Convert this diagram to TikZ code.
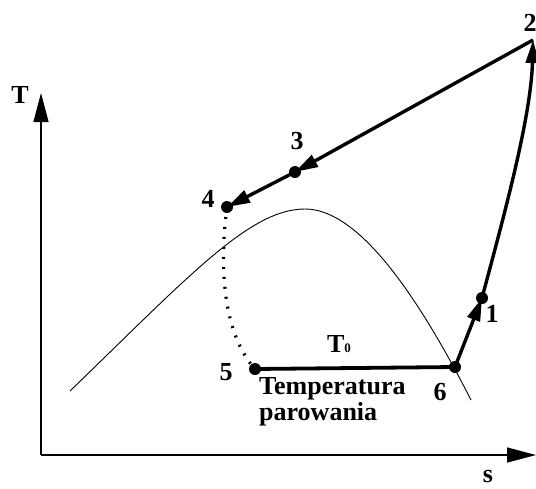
\documentclass[tikz,border=0pt]{standalone}
\usepackage{fontspec}
\setmainfont{Liberation Serif}
\usepackage{tikz}
\usetikzlibrary{arrows.meta, calc}
\tikzset{
  axis/.style={line width=1.3pt, -{Triangle[length=29pt, width=15pt]}},
  process/.style={line width=3.4pt, -{Triangle[length=23pt, width=13pt]}},
  plainproc/.style={line width=3.8pt},
  throttle/.style={line width=3.2pt, dash pattern=on 2pt off 8pt},
  dome/.style={line width=0.9pt},
  dot/.style={circle, fill=black, inner sep=0pt, minimum size=12pt},
  lbl/.style={font=\fontsize{26}{26}\selectfont\bfseries, inner sep=0pt}
}

\begin{document}
\begin{tikzpicture}[x=1pt, y=-1pt]
  \useasboundingbox (0,0) rectangle (536,488);

  % Axes
  \coordinate (origin) at (41,455);
  \coordinate (tmax) at (41,93);
  \coordinate (smax) at (536,455);
  \draw[axis] (origin) -- (tmax);
  \draw[axis] (origin) -- (smax);
  \node[lbl] (tlab) at (20,95) {T};
  \node[lbl] (slab) at (488,476) {s};

  % Saturation dome
  \coordinate (domeL) at (70,391);
  \coordinate (domeTop) at (305,209);
  \coordinate (domeR) at (471,400);
  \draw[dome] (domeL) .. controls (190,275) and (250,209) .. (domeTop)
    .. controls (360,209) and (420,300) .. (domeR);

  % Cycle states
  \coordinate (p1) at (482,298);
  \coordinate (p2) at (533,40);
  \coordinate (p3) at (295,172);
  \coordinate (p4) at (227,207);
  \coordinate (p5) at (255,369);
  \coordinate (p6) at (455,367);

  % Cycle lines
  \draw[plainproc] (p5) -- (p6);
  \draw[process] (p6) -- (p1);
  \draw[process] (p1) .. controls (500,230) and (531,120) .. (p2);
  \draw[process] (p2) -- (p3);
  \draw[process] (p3) -- (p4);
  \draw[throttle] (p4) .. controls (217,285) and (229,340) .. (p5);

  % State dots
  \foreach \p in {p1,p3,p4,p5,p6} {
    \node[dot] (d\p) at (\p) {};
  }

  % State numbers
  \node[lbl] (n1) at (492,314) {1};
  \node[lbl] (n2) at (530,23) {2};
  \node[lbl] (n3) at (297,141) {3};
  \node[lbl] (n4) at (208,199) {4};
  \node[lbl] (n5) at (226,372) {5};
  \node[lbl] (n6) at (440,392) {6};

  % Evaporation temperature
  \node[lbl] (t0) at (339,344) {T{\fontsize{13}{13}\selectfont 0}};
  \node[lbl, anchor=north west, align=left] (evap) at (259,377) {Temperatura\\parowania};
\end{tikzpicture}
\end{document}
